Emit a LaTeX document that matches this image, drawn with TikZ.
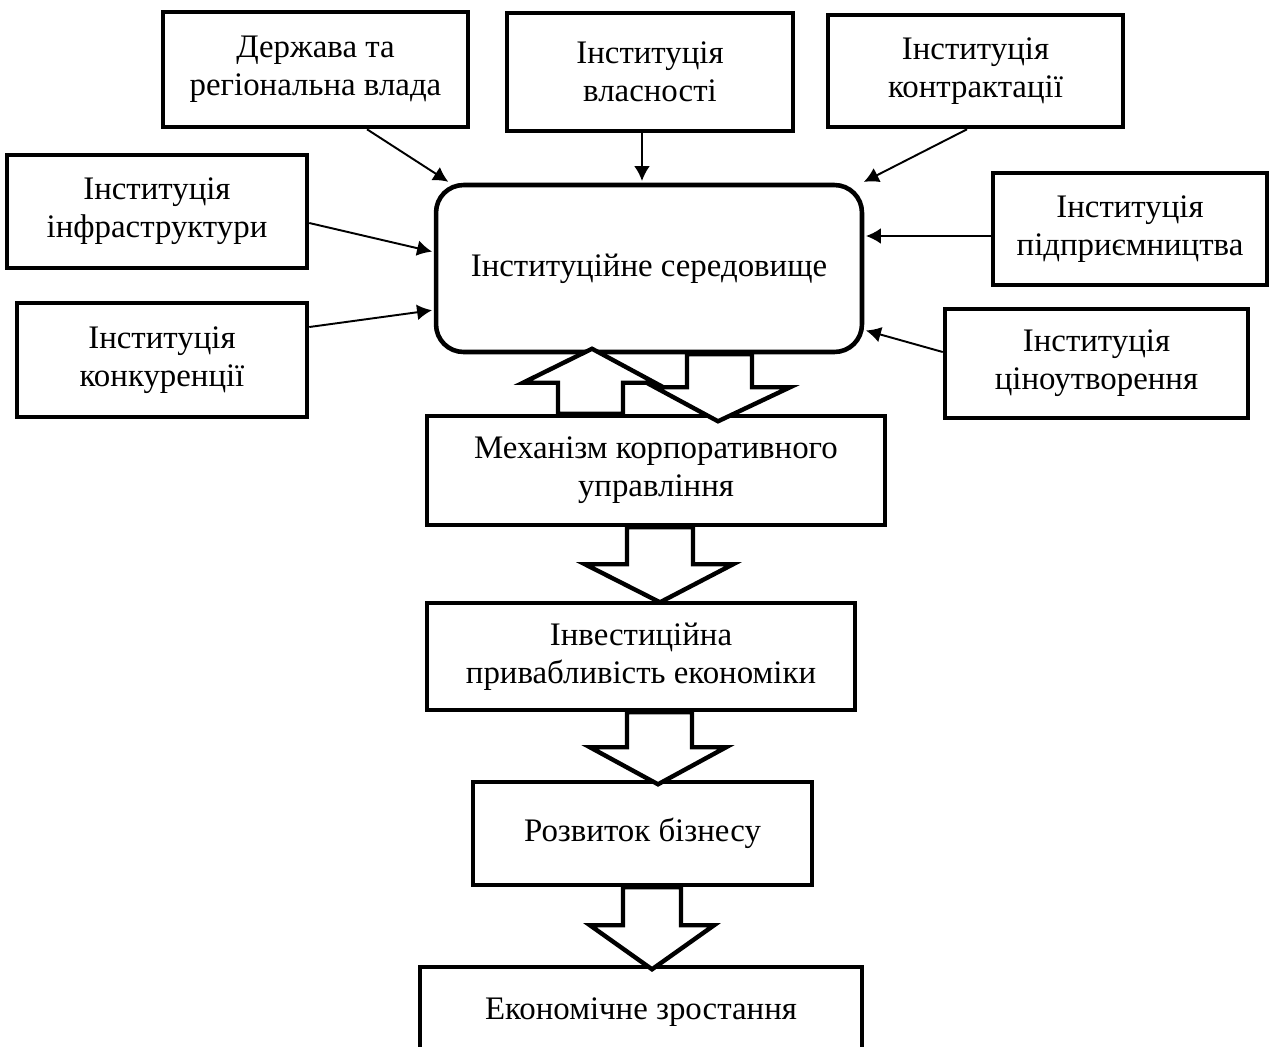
\documentclass[tikz,border=0pt]{standalone}
\usepackage{fontspec}
\setmainfont{Liberation Serif}
\usetikzlibrary{arrows.meta,calc}

\tikzset{
  box/.style={draw, line width=2.6pt, align=center, inner sep=0pt,
    font=\fontsize{18.7}{21.5}\selectfont},
  feed/.style={-{Latex[length=8.5pt,width=9pt]}, line width=1.1pt, shorten >=1pt},
  fat/.style={draw, fill=white, line width=2.5pt, line join=miter},
}

\begin{document}
\begin{tikzpicture}[x=0.02cm, y=-0.02cm]
    \useasboundingbox (0,0) rectangle (1270,1046);
    \clip (0,0) rectangle (1270,1046);

    \node[box, minimum width=6.1cm, minimum height=2.3cm] (derzh) at (315.5,69.5) {Держава та\\регіональна влада};
    \node[box, minimum width=5.72cm, minimum height=2.36cm] (vlasn) at (650,72) {Інституція\\власності};
    \node[box, minimum width=5.9cm, minimum height=2.24cm] (kontr) at (975.5,71) {Інституція\\контрактації};
    \node[box, minimum width=6cm, minimum height=2.26cm] (infra) at (157,211.5) {Інституція\\інфраструктури};
    \node[box, minimum width=5.48cm, minimum height=2.24cm] (pidpr) at (1130,229) {Інституція\\підприємництва};
    \node[box, minimum width=5.8cm, minimum height=2.28cm] (konk) at (162,360) {Інституція\\конкуренції};
    \node[box, minimum width=6.06cm, minimum height=2.18cm] (tsin) at (1096.5,363.5) {Інституція\\ціноутворення};
    \node[box, rounded corners=0.55cm, minimum width=8.52cm, minimum height=3.34cm] (sered) at (649,268.5) {Інституційне середовище};

    \node[box, minimum width=9.16cm, minimum height=2.18cm] (mekh) at (656,470.5) {Механізм корпоративного\\управління};
    \node[box, minimum width=8.56cm, minimum height=2.14cm] (invest) at (641,656.5) {Інвестиційна\\привабливість економіки};
    \node[box, minimum width=6.78cm, minimum height=2.06cm] (rozv) at (642.5,833.5) {Розвиток бізнесу};
    \node[box, minimum width=8.84cm, minimum height=1.8cm] (ekon) at (641,1012) {Економічне зростання};

    % thin arrows into the environment box
    \draw[feed] ([xshift=1.03cm]derzh.south) -- ([xshift=0.32cm]sered.north west);
    \coordinate (vl) at ([xshift=-0.16cm]vlasn.south);
    \draw[feed] (vl) -- (vl |- sered.north);
    \draw[feed] ([xshift=-0.17cm]kontr.south) -- ([xshift=-0.04cm]sered.north east);
    \draw[feed] ([yshift=-0.23cm]infra.east) -- ([yshift=0.33cm]sered.west);
    \draw[feed] ([yshift=0.66cm]konk.east) -- ([yshift=-0.83cm]sered.west);
    \coordinate (pp) at ([yshift=-0.14cm]pidpr.west);
    \draw[feed] (pp) -- (pp -| sered.east);
    \draw[feed] ([yshift=0.23cm]tsin.west) -- ([yshift=-1.23cm]sered.east);

    % block arrows
    \draw[fat] ($(mekh.north)+(-98,0)$) -- ++(0,-31) -- ++(-35,0) -- ++(69,-34) -- ++(63,34) -- ++(-32,0) -- ++(0,31) -- cycle;
    \draw[fat] ($(sered.south)+(38,0)$) -- ++(0,33) -- ++(-32,0) -- ++(63,34) -- ++(72,-34) -- ++(-38,0) -- ++(0,-33) -- cycle;
    \draw[fat] ($(mekh.south)+(-29,0)$) -- ++(0,37) -- ++(-42,0) -- ++(75,38) -- ++(73,-38) -- ++(-40,0) -- ++(0,-37) -- cycle;
    \draw[fat] ($(invest.south)+(-14,0)$) -- ++(0,35) -- ++(-37,0) -- ++(68,37) -- ++(68,-37) -- ++(-34,0) -- ++(0,-35) -- cycle;
    \draw[fat] ($(rozv.south)+(-19.5,0)$) -- ++(0,38) -- ++(-33,0) -- ++(62,44) -- ++(62,-44) -- ++(-33,0) -- ++(0,-38) -- cycle;

\end{tikzpicture}
\end{document}
